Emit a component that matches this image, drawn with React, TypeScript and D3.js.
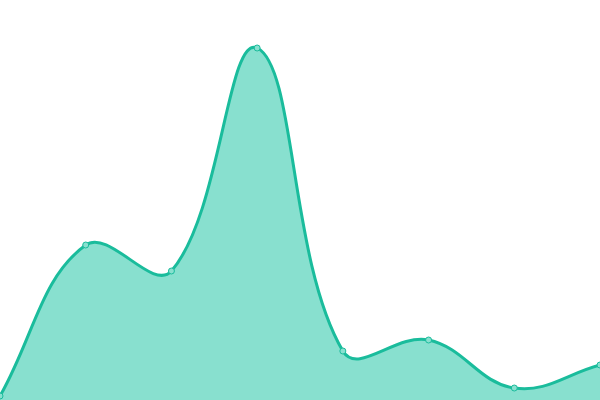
import * as d3 from "d3";

const categories = ["A", "B", "C", "D", "E", "F", "G", "H"];
const values = [4, 155, 129, 352, 49, 60, 12, 35];

const WIDTH = 600;
const HEIGHT = 400;
const LINE = "#1abc9c";
const FILL = "#88e0cf";
const TENSION = 0.4;

// bezier spline, control points weighted by neighbouring segment lengths
class SplineCurve {
  _context: any;
  _line: number;
  _xs: number[] = [];
  _ys: number[] = [];
  constructor(context: any) {
    this._context = context;
  }
  areaStart() {
    this._line = 0;
  }
  areaEnd() {
    this._line = NaN;
  }
  lineStart() {
    this._xs = [];
    this._ys = [];
  }
  point(x: number, y: number) {
    this._xs.push(+x);
    this._ys.push(+y);
  }
  lineEnd() {
    const xs = this._xs;
    const ys = this._ys;
    const n = xs.length;
    const ctx = this._context;
    const cps = xs.map((x, i) => {
      const px = i > 0 ? xs[i - 1] : x, py = i > 0 ? ys[i - 1] : ys[i];
      const nx = i < n - 1 ? xs[i + 1] : x, ny = i < n - 1 ? ys[i + 1] : ys[i];
      const d01 = Math.hypot(x - px, ys[i] - py);
      const d12 = Math.hypot(nx - x, ny - ys[i]);
      const s01 = d01 / (d01 + d12) || 0;
      const s12 = d12 / (d01 + d12) || 0;
      const fa = TENSION * s01, fb = TENSION * s12;
      const clampX = (v: number) => Math.max(0, Math.min(WIDTH, v));
      const clampY = (v: number) => Math.max(0, Math.min(HEIGHT, v));
      return {
        inX: clampX(x - fa * (nx - px)),
        inY: clampY(ys[i] - fa * (ny - py)),
        outX: clampX(x + fb * (nx - px)),
        outY: clampY(ys[i] + fb * (ny - py)),
      };
    });
    for (let i = 0; i < n; i++) {
      if (i === 0) {
        if (this._line) ctx.lineTo(xs[0], ys[0]);
        else ctx.moveTo(xs[0], ys[0]);
        continue;
      }
      ctx.bezierCurveTo(cps[i - 1].outX, cps[i - 1].outY, cps[i].inX, cps[i].inY, xs[i], ys[i]);
    }
    if (this._line || (this._line !== 0 && n === 1)) ctx.closePath();
    this._line = 1 - this._line;
  }
}

const curveSpline = (context: any) => new SplineCurve(context) as any;

export default function App() {
  const x = d3.scalePoint<string>().domain(categories).range([0, WIDTH]);
  const y = d3.scaleLinear().domain([0, 400]).range([HEIGHT, 0]);

  const pts = categories.map((c, i) => [x(c)!, y(values[i])] as [number, number]);

  const area = d3
    .area<[number, number]>()
    .x((d) => d[0])
    .y0(y(0))
    .y1((d) => d[1])
    .curve(curveSpline);
  const line = d3
    .line<[number, number]>()
    .x((d) => d[0])
    .y((d) => d[1])
    .curve(curveSpline);

  return (
    <svg
      width={WIDTH}
      height={HEIGHT}
      style={{ position: "absolute", left: 0, top: 0, display: "block" }}
    >
      <path d={area(pts) ?? ""} fill={FILL} />
      <path d={line(pts) ?? ""} fill="none" stroke={LINE} strokeWidth={3} />
      {pts.map((p, i) => (
        <circle key={categories[i]} cx={p[0]} cy={p[1]} r={3} fill={FILL} stroke={LINE} strokeWidth={1} />
      ))}
    </svg>
  );
}
